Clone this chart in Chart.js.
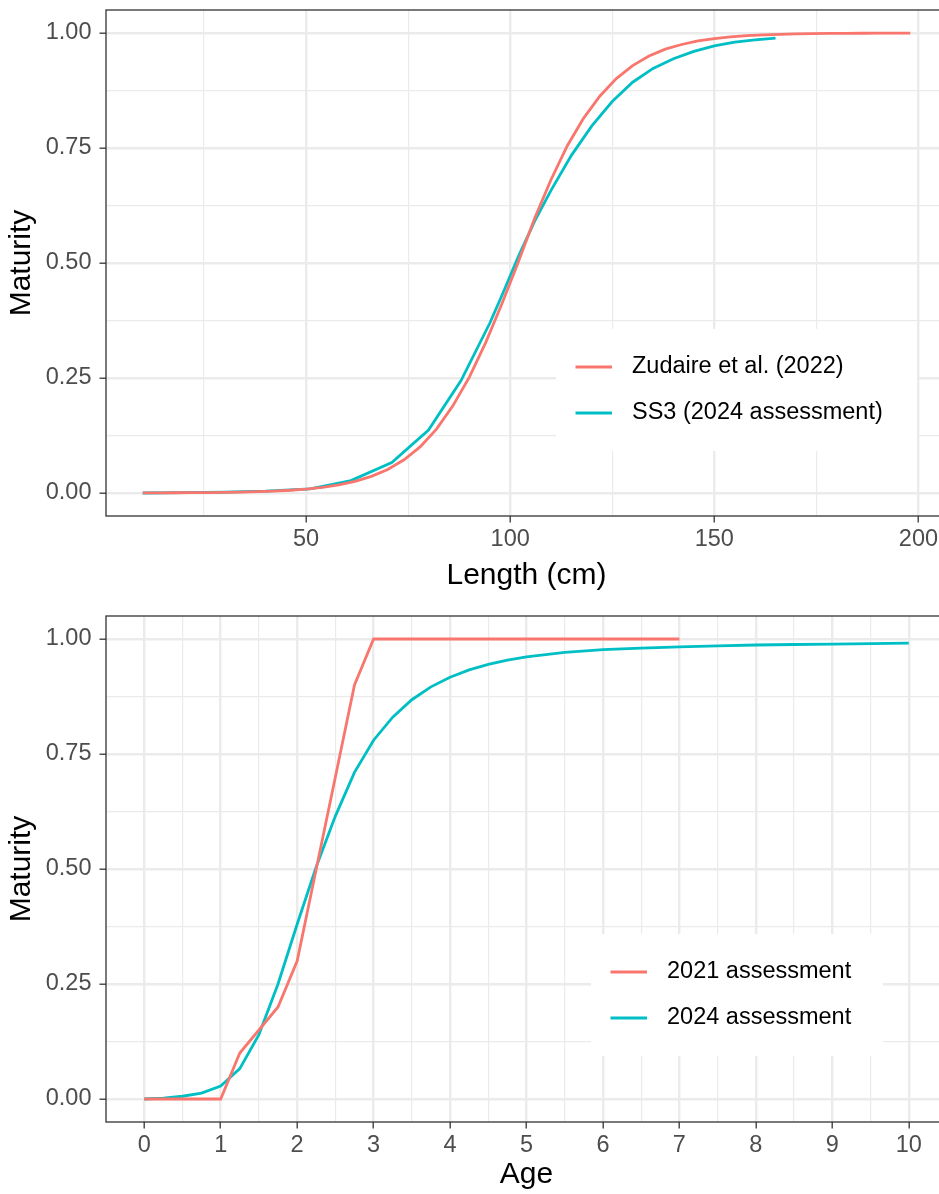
<!DOCTYPE html>
<html>
<head>
<meta charset="utf-8">
<script src="https://cdn.jsdelivr.net/npm/chart.js@4.4.1/dist/chart.umd.min.js"></script>
<style>
  html, body { margin: 0; padding: 0; background: #fff; overflow: hidden; }
  #wrap { width: 939px; height: 1194px; overflow: hidden; }
  canvas { display: block; }
</style>
</head>
<body>
<div id="wrap">
  <canvas id="lengthChart" width="947" height="600"></canvas>
  <canvas id="ageChart" width="947" height="594"></canvas>
</div>
<script>
// top panel: maturity at length
const lengthZudaire = [10, 14, 18, 22, 26, 30, 34, 38, 42, 46, 50, 54, 58, 62, 66, 70, 74, 78, 82, 86, 90, 94, 98,
  102, 106, 110, 114, 118, 122, 126, 130, 134, 138, 142, 146, 150, 154, 158, 162, 166, 170, 174, 178, 182, 186, 190, 194, 198];
const matZudaire = [0.0002, 0.0003, 0.0005, 0.0007, 0.001, 0.0014, 0.002, 0.0029, 0.0042, 0.006, 0.0086, 0.0124, 0.0177,
  0.0253, 0.0362, 0.0512, 0.0723, 0.1007, 0.1393, 0.19, 0.252, 0.327, 0.412, 0.502, 0.597, 0.681, 0.755, 0.815, 0.863,
  0.901, 0.929, 0.95, 0.965, 0.975, 0.983, 0.988, 0.9916, 0.9941, 0.9959, 0.9972, 0.998, 0.9986, 0.9991, 0.9993, 0.9995,
  0.9997, 0.9998, 0.9998];
const lengthSS3 = [10, 20, 30, 40, 51, 61, 71, 80, 88, 95, 98, 102, 106, 110, 115, 120, 125, 130, 135, 140, 145, 150, 155, 160, 165];
const matSS3 = [0, 0.001, 0.002, 0.004, 0.009, 0.027, 0.066, 0.137, 0.245, 0.369, 0.43, 0.514, 0.591, 0.658, 0.734, 0.798,
  0.851, 0.893, 0.923, 0.944, 0.96, 0.972, 0.98, 0.985, 0.989];

// bottom panel: maturity at age
const age2021 = [0, 0.25, 0.5, 0.75, 1, 1.25, 1.5, 1.75, 2, 2.25, 2.5, 2.75, 3, 4, 5, 6, 7];
const mat2021 = [0, 0, 0, 0, 0, 0.1, 0.15, 0.2, 0.3, 0.5, 0.7, 0.9, 1, 1, 1, 1, 1];
const age2024 = [0, 0.25, 0.5, 0.75, 1, 1.25, 1.5, 1.75, 2, 2.25, 2.5, 2.75, 3, 3.25, 3.5, 3.75, 4, 4.25, 4.5, 4.75, 5,
  5.5, 6, 6.5, 7, 7.5, 8, 8.5, 9, 9.5, 10];
const mat2024 = [0, 0.002, 0.006, 0.013, 0.028, 0.066, 0.14, 0.25, 0.38, 0.505, 0.615, 0.71, 0.78, 0.83, 0.868, 0.896,
  0.917, 0.933, 0.945, 0.954, 0.961, 0.971, 0.977, 0.98, 0.983, 0.985, 0.987, 0.988, 0.989, 0.99, 0.991];

// ticks (major + minor, ggplot style)
const maturityTicks = [0, 0.125, 0.25, 0.375, 0.5, 0.625, 0.75, 0.875, 1];
const lengthTicks = [25, 50, 75, 100, 125, 150, 175, 200];
const ageTicks = [0, 0.5, 1, 1.5, 2, 2.5, 3, 3.5, 4, 4.5, 5, 5.5, 6, 6.5, 7, 7.5, 8, 8.5, 9, 9.5, 10];

const RED = '#F8766D';
const TEAL = '#00BFC4';
const FONT = '"Liberation Sans", Arial, sans-serif';

const toPoints = (xs, ys) => xs.map((x, i) => ({ x: x, y: ys[i] }));

// legend box + panel border drawn on top
const panelDecor = {
  id: 'panelDecor',
  afterDraw(chart, args, opts) {
    const { ctx, chartArea: a } = chart;
    const b = opts.box;
    ctx.save();
    ctx.fillStyle = '#fff';
    ctx.fillRect(b.x, b.y, b.w, b.h);
    ctx.font = '23.5px ' + FONT;
    ctx.textBaseline = 'middle';
    chart.data.datasets.forEach((ds, i) => {
      const y = b.y + 38 + i * 46;
      ctx.strokeStyle = ds.borderColor;
      ctx.lineWidth = 2.8;
      ctx.beginPath();
      ctx.moveTo(b.x + 19.5, y);
      ctx.lineTo(b.x + 56, y);
      ctx.stroke();
      ctx.fillStyle = '#000';
      ctx.fillText(ds.label, b.x + 76, y);
    });
    ctx.strokeStyle = '#333333';
    ctx.lineWidth = 1.3;
    ctx.strokeRect(a.left, a.top, a.right - a.left, a.bottom - a.top);
    ctx.restore();
  }
};

function gridStyle(isMajor) {
  return {
    color: '#EBEBEB',
    lineWidth: (c) => isMajor(c.tick.value) ? 2.4 : 1.2,
    tickColor: (c) => isMajor(c.tick.value) ? '#333333' : 'rgba(0,0,0,0)',
    tickWidth: 1.3,
    tickLength: 6.5,
    drawTicks: true
  };
}

function makeChart(id, datasets, xMin, xMax, xTicks, isMajorX, xTitle, padTop, axisHeight, titlePad, box) {
  const isMajorY = (v) => Math.abs(v * 4 - Math.round(v * 4)) < 1e-9;
  return new Chart(document.getElementById(id), {
    type: 'line',
    data: { datasets: datasets },
    options: {
      responsive: false,
      animation: false,
      devicePixelRatio: 1,
      layout: { padding: { top: padTop, left: 0, right: 0, bottom: 0 } },
      elements: { point: { radius: 0 }, line: { borderWidth: 2.8, tension: 0 } },
      plugins: {
        legend: { display: false },
        tooltip: { enabled: false },
        panelDecor: { box: box }
      },
      scales: {
        x: {
          type: 'linear',
          min: xMin,
          max: xMax,
          afterBuildTicks: (s) => { s.ticks = xTicks.map(v => ({ value: v })); },
          afterFit: (s) => { s.height = axisHeight; s.paddingLeft = 0; s.paddingRight = 0; },
          grid: gridStyle(isMajorX),
          border: { display: false },
          ticks: {
            autoSkip: false,
            maxRotation: 0,
            padding: 3,
            color: '#4D4D4D',
            font: { family: FONT, size: 23.5 },
            callback: (v) => isMajorX(v) ? String(v) : ''
          },
          title: {
            display: true,
            text: xTitle,
            color: '#000',
            font: { family: FONT, size: 30, lineHeight: 1.2 },
            padding: { top: 0, bottom: titlePad }
          }
        },
        y: {
          type: 'linear',
          min: -0.05,
          max: 1.05,
          afterBuildTicks: (s) => { s.ticks = maturityTicks.map(v => ({ value: v })); },
          afterFit: (s) => { s.width = 106; s.paddingTop = 0; s.paddingBottom = 0; },
          grid: gridStyle(isMajorY),
          border: { display: false },
          ticks: {
            autoSkip: false,
            padding: 8,
            color: '#4D4D4D',
            font: { family: FONT, size: 23.5 },
            callback: (v) => isMajorY(v) ? v.toFixed(2) : ''
          },
          title: {
            display: true,
            text: 'Maturity',
            color: '#000',
            font: { family: FONT, size: 30, lineHeight: 1.2 },
            padding: { top: 4, bottom: 0 }
          }
        }
      }
    },
    plugins: [panelDecor]
  });
}

makeChart('lengthChart', [
  { label: 'Zudaire et al. (2022)', data: toPoints(lengthZudaire, matZudaire), borderColor: RED, backgroundColor: RED },
  { label: 'SS3 (2024 assessment)', data: toPoints(lengthSS3, matSS3), borderColor: TEAL, backgroundColor: TEAL }
], 1, 207, lengthTicks, (v) => v % 50 === 0, 'Length (cm)', 10, 84, 6, { x: 556, y: 329, w: 361, h: 122 });

makeChart('ageChart', [
  { label: '2021 assessment', data: toPoints(age2021, mat2021), borderColor: RED, backgroundColor: RED },
  { label: '2024 assessment', data: toPoints(age2024, mat2024), borderColor: TEAL, backgroundColor: TEAL }
], -0.5, 10.5, ageTicks, (v) => Number.isInteger(v), 'Age', 16, 72, 1, { x: 591, y: 334, w: 292, h: 122 });
</script>
</body>
</html>
